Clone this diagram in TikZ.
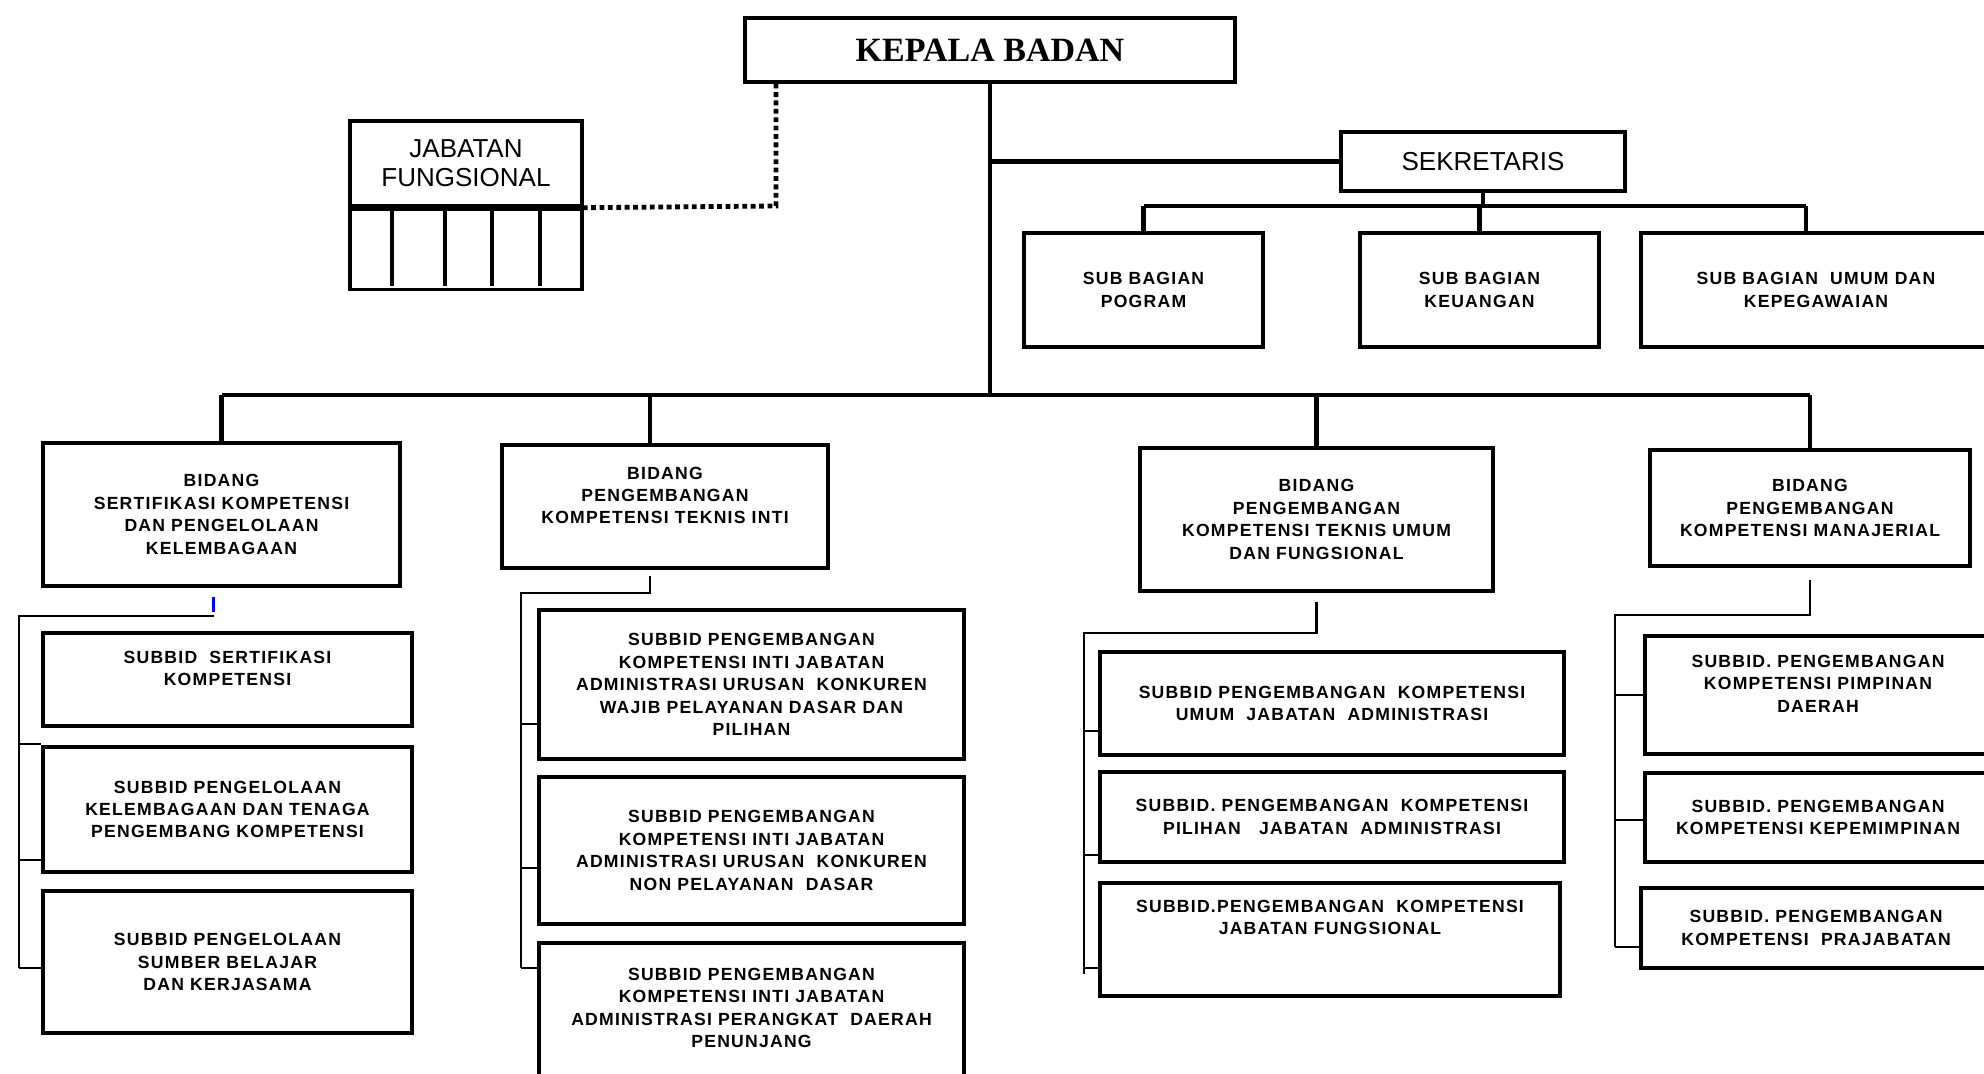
\documentclass[tikz,border=0pt]{standalone}
\usepackage{fontspec}
\setmainfont{Liberation Sans}
\newfontfamily\headfont{Liberation Serif}
\newfontfamily\unitfont{Liberation Sans}[LetterSpace=7]

\begin{document}
\begin{tikzpicture}[x=0.5pt, y=-0.5pt,
        box/.style={draw, line width=1.7pt, align=center, inner sep=0pt},
        wh/.style 2 args={minimum width=#1*0.5pt, minimum height=#2*0.5pt},
        unit/.style={box, font=\unitfont\bfseries\fontsize{8.8}{11.2}\selectfont},
        bus/.style={line width=2.4pt},
        sub/.style={line width=1.4pt},
        dots/.style={line width=2.4pt, dash pattern=on 2.4pt off 1.8pt}]
            %\draw[lightgray] (0,0) grid[step=100] (1984,1074);
            \useasboundingbox (0,0) rectangle (1984,1074);
            \fill[white] (0,0) rectangle (1984,1074);

            \node[box, wh={490}{64}, font=\headfont\bfseries\fontsize{17}{20}\selectfont] (kepala) at (990,50) {KEPALA BADAN};
            \node[box, wh={232}{85}, font=\fontsize{13}{14.5}\selectfont] (jabatan) at (466,163.5) {JABATAN\\FUNGSIONAL};
            \node[box, wh={232}{80}, anchor=north] (cells) at (jabatan.south) {};
            \foreach \x in {392,445,492,540}
                \draw[line width=1.7pt] (\x,206) -- (\x,286);
            \node[box, wh={284}{59}, font=\fontsize{13}{15}\selectfont] (sekretaris) at (1483,161.5) {SEKRETARIS};

            \node[unit, wh={239}{114}] (program) at (1143.5,290) {SUB BAGIAN\\POGRAM};
            \node[unit, wh={239}{114}] (keuangan) at (1479.5,290) {SUB BAGIAN\\KEUANGAN};
            \node[unit, wh={350}{114}] (umum) at (1816,290) {SUB BAGIAN~~UMUM DAN\\KEPEGAWAIAN};

            \node[unit, wh={357}{143}] (sertifikasi) at (221.5,514.5) {BIDANG\\SERTIFIKASI KOMPETENSI\\DAN PENGELOLAAN\\KELEMBAGAAN};
            \node[unit, wh={326}{123}] (inti) at (665,506.5) {BIDANG\\PENGEMBANGAN\\KOMPETENSI TEKNIS INTI\\ \mbox{}};
            \node[unit, wh={353}{143}] (umumfung) at (1316.5,519.5) {BIDANG\\PENGEMBANGAN\\KOMPETENSI TEKNIS UMUM\\DAN FUNGSIONAL};
            \node[unit, wh={320}{116}] (manajerial) at (1810,508) {BIDANG\\PENGEMBANGAN\\KOMPETENSI MANAJERIAL};

            \node[unit, wh={369}{93}] (s11) at (227.5,679.5) {SUBBID~~SERTIFIKASI\\KOMPETENSI\\ \mbox{}};
            \node[unit, wh={369}{125}] (s12) at (227.5,809.5) {SUBBID PENGELOLAAN\\KELEMBAGAAN DAN TENAGA\\PENGEMBANG KOMPETENSI};
            \node[unit, wh={369}{142}] (s13) at (227.5,962) {SUBBID PENGELOLAAN\\SUMBER BELAJAR\\DAN KERJASAMA};

            \node[unit, wh={425}{149}] (s21) at (751.5,684.5) {SUBBID PENGEMBANGAN\\KOMPETENSI INTI JABATAN\\ADMINISTRASI URUSAN~~KONKUREN\\WAJIB PELAYANAN DASAR DAN\\PILIHAN};
            \node[unit, wh={425}{147}] (s22) at (751.5,850.5) {SUBBID PENGEMBANGAN\\KOMPETENSI INTI JABATAN\\ADMINISTRASI URUSAN~~KONKUREN\\NON PELAYANAN~~DASAR};
            \node[unit, wh={425}{152}] (s23) at (751.5,1019) {SUBBID PENGEMBANGAN\\KOMPETENSI INTI JABATAN\\ADMINISTRASI PERANGKAT~~DAERAH\\PENUNJANG\\ \mbox{}};

            \node[unit, wh={464}{103}] (s31) at (1332,703.5) {SUBBID PENGEMBANGAN~~KOMPETENSI\\UMUM~~JABATAN~~ADMINISTRASI};
            \node[unit, wh={464}{90}] (s32) at (1332,817) {SUBBID. PENGEMBANGAN~~KOMPETENSI\\PILIHAN~~~JABATAN~~ADMINISTRASI};
            \node[unit, wh={460}{113}] (s33) at (1330,939.5) {SUBBID.PENGEMBANGAN~~KOMPETENSI\\JABATAN FUNGSIONAL\\ \mbox{}\\ \mbox{}};

            \node[unit, wh={346}{118}] (s41) at (1818,695) {SUBBID. PENGEMBANGAN\\KOMPETENSI PIMPINAN\\DAERAH\\ \mbox{}};
            \node[unit, wh={346}{89}] (s42) at (1818,817.5) {SUBBID. PENGEMBANGAN\\KOMPETENSI KEPEMIMPINAN};
            \node[unit, wh={350}{80}] (s43) at (1816,928) {SUBBID. PENGEMBANGAN\\KOMPETENSI~~PRAJABATAN};

            % top of the chart
            \coordinate (bus) at (990,395);
            \coordinate (sekbus) at (1477,206);
            \coordinate (dotcorner) at (776,206);
            \draw[bus] (kepala.south) -- (bus);
            \draw[bus] (kepala.south |- sekretaris.west) -- (sekretaris.west);
            \draw[dots] (kepala.south -| dotcorner) -- (dotcorner) -- (jabatan.south east);
            \draw[bus] (sekretaris.south) -- (sekretaris.south |- sekbus);
            \draw[bus] (program.north |- sekbus) -- ([xshift=-5pt]umum.north |- sekbus);
            \foreach \n in {program,keuangan}
                \draw[bus] (\n.north |- sekbus) -- (\n.north);
            \draw[bus] ([xshift=-5pt]umum.north |- sekbus) -- ([xshift=-5pt]umum.north);
            \draw[bus] (sertifikasi.north |- bus) -- (manajerial.north |- bus);
            \foreach \n in {sertifikasi,umumfung,manajerial}
                \draw[bus] (\n.north |- bus) -- (\n.north);
            \draw[bus] ([xshift=-7.5pt]inti.north |- bus) -- ([xshift=-7.5pt]inti.north);

            % columns of subbid
            \coordinate (sp1t) at (19,616);
            \coordinate (sp1b) at (19,968);
            \draw[sub, blue, shorten <=4.5pt, shorten >=2pt] ([xshift=-4pt]sertifikasi.south) -- ([xshift=-4pt]sertifikasi.south |- sp1t);
            \draw[sub] ([xshift=-4pt]sertifikasi.south |- sp1t) -- (sp1t) -- (sp1b);
            \foreach \n/\y in {s12/744, s12/860, s13/968} {
                \coordinate (k) at (19,\y);
                \draw[sub] (k) -- (k -| \n.west);
            }

            \coordinate (sp2t) at (521,593);
            \coordinate (sp2b) at (521,968);
            \draw[sub, shorten <=3pt] ([xshift=-7.5pt]inti.south) -- ([xshift=-7.5pt]inti.south |- sp2t) -- (sp2t) -- (sp2b);
            \foreach \n/\y in {s21/724, s22/868, s23/968} {
                \coordinate (k) at (521,\y);
                \draw[sub] (k) -- (k -| \n.west);
            }

            \coordinate (sp3t) at (1084,633);
            \coordinate (sp3b) at (1084,974);
            \draw[sub, shorten <=4.5pt] (umumfung.south) -- (umumfung.south |- sp3t) -- (sp3t) -- (sp3b);
            \foreach \n/\y in {s31/731, s32/855, s33/968} {
                \coordinate (k) at (1084,\y);
                \draw[sub] (k) -- (k -| \n.west);
            }

            \coordinate (sp4t) at (1615,615);
            \coordinate (sp4b) at (1615,947);
            \draw[sub, shorten <=6pt] (manajerial.south) -- (manajerial.south |- sp4t) -- (sp4t) -- (sp4b);
            \foreach \n/\y in {s41/695, s42/820, s43/947} {
                \coordinate (k) at (1615,\y);
                \draw[sub] (k) -- (k -| \n.west);
            }
        \end{tikzpicture}
\end{document}
